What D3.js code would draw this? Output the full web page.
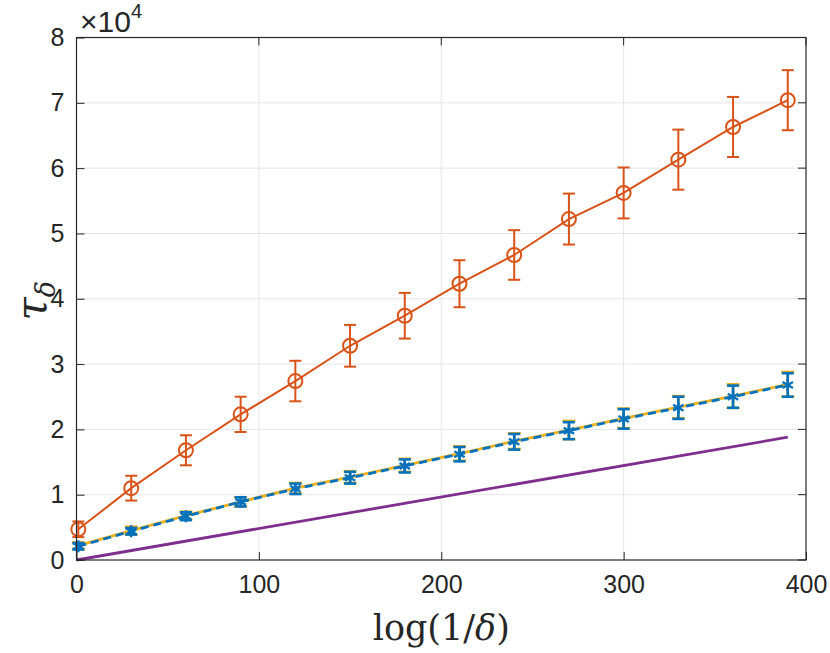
<!DOCTYPE html>
<html>
<head>
<meta charset="utf-8">
<script src="https://cdn.jsdelivr.net/npm/d3@7"></script>
<style>
  body { margin: 0; background: #fff; }
  svg { display: block; }
  .tick text { font-family: "Liberation Sans", Arial, sans-serif; fill: #262626; }
</style>
</head>
<body>
<svg id="chart" width="830" height="653"></svg>
<script>
// ── Data (values in units of 1e4) ───────────────────────────────────────────
const xs = [1, 30, 60, 90, 120, 150, 180, 210, 240, 270, 300, 330, 360, 390];

const orangeMean = [0.47, 1.10, 1.68, 2.23, 2.74, 3.28, 3.74, 4.23, 4.67, 5.22, 5.62, 6.13, 6.63, 7.04];
const orangeErr  = [0.12, 0.19, 0.23, 0.27, 0.31, 0.32, 0.35, 0.36, 0.38, 0.39, 0.39, 0.46, 0.46, 0.46];

const blueMean = [0.21, 0.44, 0.67, 0.89, 1.09, 1.26, 1.44, 1.62, 1.81, 1.98, 2.16, 2.33, 2.50, 2.68];
const blueErr  = [0.05, 0.05, 0.06, 0.07, 0.08, 0.09, 0.10, 0.11, 0.12, 0.13, 0.15, 0.17, 0.17, 0.18];

const yellowMean = [0.22, 0.45, 0.68, 0.89, 1.10, 1.27, 1.45, 1.63, 1.82, 1.99, 2.17, 2.34, 2.51, 2.69];
const yellowErr  = [0.05, 0.06, 0.06, 0.07, 0.08, 0.09, 0.10, 0.11, 0.12, 0.14, 0.15, 0.17, 0.18, 0.19];

const purpleX = [0, 390];
const purpleY = [0, 1.88];

const xTicks = [0, 100, 200, 300, 400];
const yTicks = [0, 1, 2, 3, 4, 5, 6, 7, 8];

// ── Setup ───────────────────────────────────────────────────────────────────
const svg = d3.select('#chart');
const L = 76.5, R = 806, T = 37.5, B = 560;

const x = d3.scaleLinear().domain([0, 400]).range([L, R]);
const y = d3.scaleLinear().domain([0, 8]).range([B, T]);

const COL = { orange: '#D95319', blue: '#0072BD', yellow: '#EDB120', purple: '#7E2F8E' };
const AX = '#262626';
const SANS = 'Liberation Sans, Arial, sans-serif';
const SERIF = 'DejaVu Serif, Liberation Serif, serif';

// grid
const grid = svg.append('g');
grid.selectAll('.gx').data(xTicks.slice(1, -1)).enter().append('line')
  .attr('x1', d => x(d)).attr('x2', d => x(d)).attr('y1', T).attr('y2', B)
  .attr('stroke', '#e6e6e6').attr('stroke-width', 1);
grid.selectAll('.gy').data(yTicks.slice(1, -1)).enter().append('line')
  .attr('x1', L).attr('x2', R).attr('y1', d => y(d)).attr('y2', d => y(d))
  .attr('stroke', '#e6e6e6').attr('stroke-width', 1);

// ── Series ──────────────────────────────────────────────────────────────────
const line = d3.line().x(d => x(d[0])).y(d => y(d[1]));
const plot = svg.append('g');

function errorBars(means, errs, color, cap, width) {
  const g = plot.append('g').attr('stroke', color).attr('stroke-width', width).attr('fill', 'none');
  xs.forEach((xv, i) => {
    const cx = x(xv), top = y(means[i] + errs[i]), bot = y(means[i] - errs[i]);
    g.append('line').attr('x1', cx).attr('x2', cx).attr('y1', top).attr('y2', bot);
    g.append('line').attr('x1', cx - cap).attr('x2', cx + cap).attr('y1', top).attr('y2', top);
    g.append('line').attr('x1', cx - cap).attr('x2', cx + cap).attr('y1', bot).attr('y2', bot);
  });
}

// purple reference line
plot.append('path')
  .datum(purpleX.map((d, i) => [d, purpleY[i]]))
  .attr('d', line).attr('fill', 'none')
  .attr('stroke', COL.purple).attr('stroke-width', 2.8);

// orange
plot.append('path')
  .datum(xs.map((d, i) => [d, orangeMean[i]]))
  .attr('d', line).attr('fill', 'none')
  .attr('stroke', COL.orange).attr('stroke-width', 2);
errorBars(orangeMean, orangeErr, COL.orange, 6, 2);
plot.append('g').selectAll('circle')
  .data(xs.map((d, i) => [d, orangeMean[i]])).enter().append('circle')
  .attr('cx', d => x(d[0])).attr('cy', d => y(d[1])).attr('r', 7)
  .attr('fill', 'none').attr('stroke', COL.orange).attr('stroke-width', 2);

// yellow (solid, underneath)
errorBars(yellowMean, yellowErr, COL.yellow, 6.5, 2.6);
plot.append('path')
  .datum(xs.map((d, i) => [d, yellowMean[i]]))
  .attr('d', line).attr('fill', 'none')
  .attr('stroke', COL.yellow).attr('stroke-width', 2.8);

// blue (dashed, on top)
errorBars(blueMean, blueErr, COL.blue, 6, 2.6);
plot.append('path')
  .datum(xs.map((d, i) => [d, blueMean[i]]))
  .attr('d', line).attr('fill', 'none')
  .attr('stroke', COL.blue).attr('stroke-width', 2.8)
  .attr('stroke-dasharray', '8,5');
const star = plot.append('g').attr('stroke', COL.blue).attr('stroke-width', 2.4);
xs.forEach((xv, i) => {
  const cx = x(xv), cy = y(blueMean[i]), r = 6;
  [0, 60, 120].forEach(a => {
    const t = a * Math.PI / 180;
    star.append('line')
      .attr('x1', cx - r * Math.sin(t)).attr('y1', cy - r * Math.cos(t))
      .attr('x2', cx + r * Math.sin(t)).attr('y2', cy + r * Math.cos(t));
  });
});

// ── Axes ────────────────────────────────────────────────────────────────────
const tickLen = 8;
const xAxis = svg.append('g').attr('transform', `translate(0,${B})`)
  .call(d3.axisBottom(x).tickValues(xTicks).tickSizeInner(-tickLen).tickSizeOuter(0).tickPadding(15));
const yAxis = svg.append('g').attr('transform', `translate(${L},0)`)
  .call(d3.axisLeft(y).tickValues(yTicks).tickSizeInner(-tickLen).tickSizeOuter(0).tickPadding(12));
[xAxis, yAxis].forEach(a => {
  a.selectAll('.tick text').style('font-size', '25px');
  a.selectAll('line').attr('stroke', AX);
  a.select('.domain').remove();
});

// box with mirrored ticks
const box = svg.append('g').attr('stroke', AX).attr('fill', 'none');
box.append('rect').attr('x', L).attr('y', T).attr('width', R - L).attr('height', B - T).attr('stroke-width', 1.2);
xTicks.forEach(d => box.append('line').attr('x1', x(d)).attr('x2', x(d)).attr('y1', T).attr('y2', T + tickLen));
yTicks.forEach(d => box.append('line').attr('x1', R).attr('x2', R - tickLen).attr('y1', y(d)).attr('y2', y(d)));

// exponent label
const expo = svg.append('text')
  .attr('x', 80).attr('y', 32)
  .attr('font-family', SANS).attr('fill', AX)
  .style('font-size', '30px');
expo.append('tspan').style('font-size', '30px').text('×10');
expo.append('tspan').attr('dy', -14).style('font-size', '20px').text('4');

// axis labels
const xl = svg.append('text')
  .attr('x', x(200)).attr('y', 640).attr('text-anchor', 'middle')
  .attr('font-family', SERIF).attr('font-size', 35).attr('fill', AX);
xl.append('tspan').text('log(1/');
xl.append('tspan').attr('font-style', 'italic').text('δ');
xl.append('tspan').text(')');

const yl = svg.append('text')
  .attr('transform', `translate(46,${(T + B) / 2 + 2}) rotate(-90)`)
  .attr('text-anchor', 'middle')
  .attr('font-family', SERIF).attr('font-size', 42)
  .attr('font-style', 'italic').attr('fill', AX);
yl.append('tspan').text('τ');
yl.append('tspan').attr('dy', 9).attr('font-size', 27).text('δ');
</script>
</body>
</html>
